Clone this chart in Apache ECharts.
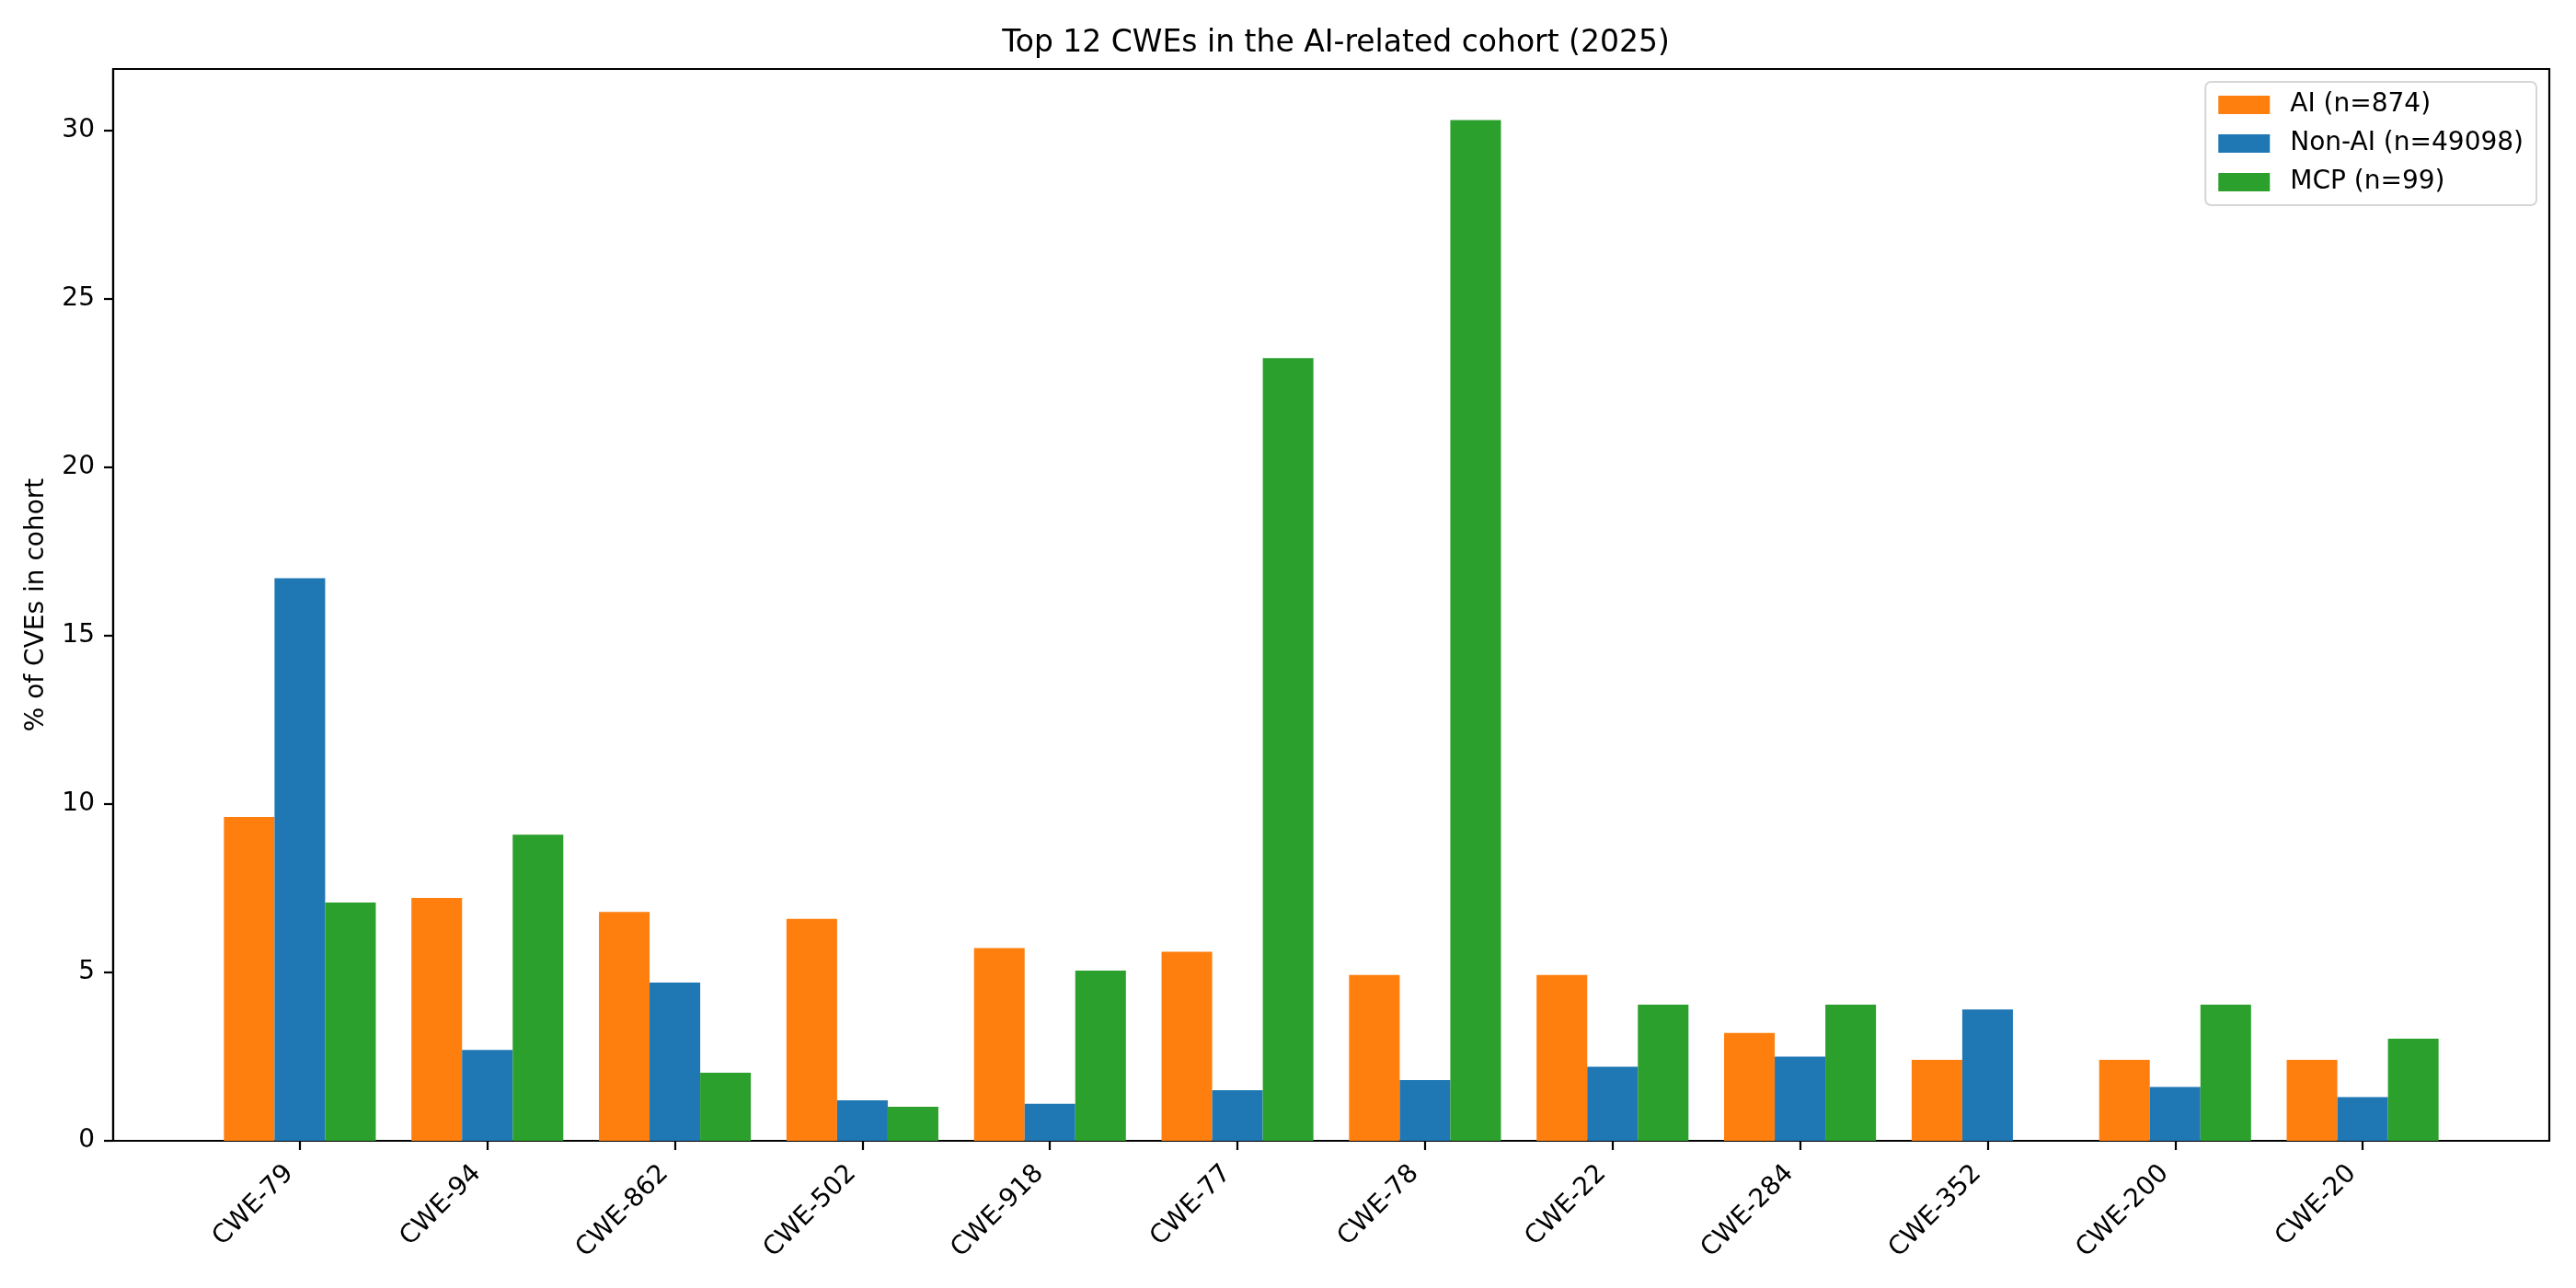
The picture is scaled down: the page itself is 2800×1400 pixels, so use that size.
<!DOCTYPE html>
<html>
<head>
<meta charset="utf-8">
<script src="https://cdn.jsdelivr.net/npm/echarts@6/dist/echarts.min.js"></script>
<style>
  html, body { margin: 0; padding: 0; background: #fff; }
  #chart { width: 2800px; height: 1400px; }
</style>
</head>
<body>
<div id="chart"></div>
<script>
// categories and values (% of CVEs in each cohort)
const categories = ["CWE-79", "CWE-94", "CWE-862", "CWE-502", "CWE-918", "CWE-77",
  "CWE-78", "CWE-22", "CWE-284", "CWE-352", "CWE-200", "CWE-20"];
const aiValues = [9.61, 7.21, 6.79, 6.59, 5.72, 5.61, 4.92, 4.92, 3.20, 2.40, 2.40, 2.40];
const nonAiValues = [16.7, 2.7, 4.7, 1.2, 1.1, 1.5, 1.8, 2.2, 2.5, 3.9, 1.6, 1.3];
const mcpValues = [7.07, 9.09, 2.02, 1.01, 5.05, 23.23, 30.30, 4.04, 4.04, 0, 4.04, 3.03];
const seriesNames = ["AI (n=874)", "Non-AI (n=49098)", "MCP (n=99)"];
const colors = ["#ff7f0e", "#1f77b4", "#2ca02c"];
const yTicks = [0, 5, 10, 15, 20, 25, 30];

const FONT = "DejaVu Sans";
const chart = echarts.init(document.getElementById("chart"), null, { renderer: "canvas" });

const idx = categories.map((c, i) => i);
const toPoints = vals => vals.map((v, i) => [i, v]);

function barSeries(name, vals, color){
  return {
    name: name,
    type: "bar",
    data: toPoints(vals),
    barWidth: "27%",
    barGap: "0%",
    itemStyle: { color: color },
    emphasis: { disabled: true }
  };
}

const option = {
  animation: false,
  backgroundColor: "#fff",
  textStyle: { fontFamily: FONT, color: "#000" },
  title: {
    text: "Top 12 CWEs in the AI-related cohort (2025)",
    left: 1447,
    textAlign: "center",
    top: 26,
    textStyle: { fontFamily: FONT, fontSize: 33, fontWeight: "normal", color: "#000" }
  },
  legend: {
    orient: "vertical",
    right: 43,
    top: 89,
    padding: [11, 14, 11, 14],
    backgroundColor: "#fff",
    borderColor: "#d6d6d6",
    borderWidth: 2,
    borderRadius: 6,
    itemWidth: 56,
    itemHeight: 20,
    itemGap: 14,
    icon: "rect",
    data: seriesNames,
    textStyle: { fontFamily: FONT, fontSize: 28, color: "#000", lineHeight: 28, padding: [0, 0, 0, 17] }
  },
  grid: {
    left: 123,
    right: 29,
    top: 75,
    bottom: 160,
    show: true,
    borderColor: "#000",
    borderWidth: 2.2,
    containLabel: false
  },
  xAxis: {
    type: "value",
    min: -0.9955,
    max: 11.9955,
    splitLine: { show: false },
    axisLine: { show: true, onZero: false, lineStyle: { color: "#000", width: 2.2 } },
    axisTick: { show: true, length: 10, customValues: idx, lineStyle: { color: "#000", width: 2.2 } },
    axisLabel: {
      customValues: idx,
      rotate: 45,
      margin: 20,
      padding: [0, 16, 0, 0],
      fontFamily: FONT,
      fontSize: 28,
      color: "#000",
      formatter: v => categories[Math.round(v)]
    }
  },
  yAxis: {
    type: "value",
    min: 0,
    max: 31.815,
    name: "% of CVEs in cohort",
    nameLocation: "middle",
    nameGap: 69,
    nameTextStyle: { fontFamily: FONT, fontSize: 28, color: "#000" },
    splitLine: { show: false },
    axisLine: { show: true, onZero: false, lineStyle: { color: "#000", width: 2.2 } },
    axisTick: { show: true, length: 10, customValues: yTicks, lineStyle: { color: "#000", width: 2.2 } },
    axisLabel: {
      customValues: yTicks,
      margin: 20,
      fontFamily: FONT,
      fontSize: 28,
      color: "#000"
    }
  },
  series: [
    barSeries(seriesNames[0], aiValues, colors[0]),
    barSeries(seriesNames[1], nonAiValues, colors[1]),
    barSeries(seriesNames[2], mcpValues, colors[2])
  ]
};

chart.setOption(option);
</script>
</body>
</html>
